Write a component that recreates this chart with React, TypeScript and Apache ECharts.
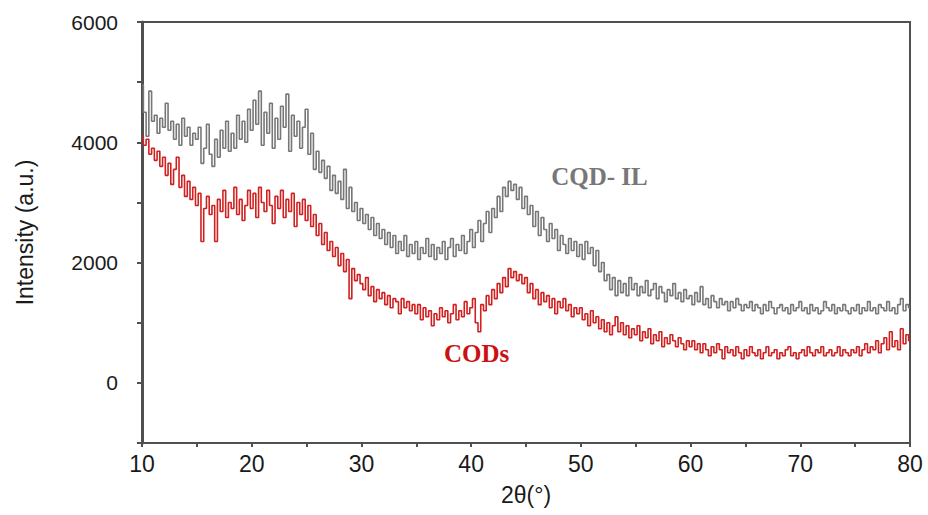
import React, { useEffect, useRef } from "react";
import * as echarts from "echarts";

// 2θ sampling grid (degrees)
const THETA_START = 10;
const THETA_STEP = 0.25;

// CQD- IL intensity (a.u.), one value every 0.25° from 10° to 80°
const cqdIL: number[] = [
  4950, 4500, 4100, 4850, 4350, 4450, 4150, 4400, 4250, 4650, 4200, 4350, 4050, 4300, 3950, 4400, 4100, 4250, 3950, 4150,
  4050, 4250, 3650, 3900, 4300, 3800, 3600, 4050, 3750, 4200, 3900, 4350, 3850, 4150, 3900, 4450, 4050, 4350, 4000, 4550,
  4200, 4700, 4300, 4850, 3950, 4500, 4150, 4650, 3900, 4400, 4050, 4600, 4250, 4800, 3850, 4450, 4100, 4350, 3900, 4250,
  4550, 3800, 4150, 3550, 3850, 3500, 3700, 3400, 3600, 3200, 3450, 3150, 3350, 3050, 3550, 2900, 3250, 2850, 3000, 2700,
  2900, 2650, 2800, 2550, 2750, 2450, 2650, 2400, 2550, 2300, 2500, 2250, 2450, 2150, 2350, 2200, 2450, 2100, 2300, 2150,
  2350, 2050, 2250, 2150, 2400, 2100, 2300, 2050, 2250, 2150, 2350, 2050, 2250, 2400, 2100, 2300, 2200, 2450, 2150, 2350,
  2550, 2250, 2500, 2700, 2350, 2650, 2850, 2500, 2900, 2750, 3100, 2850, 3250, 3100, 3350, 3200, 3300, 3050, 3250, 2900,
  3100, 2800, 2950, 2600, 2850, 2450, 2750, 2550, 2350, 2650, 2400, 2550, 2200, 2450, 2300, 2150, 2400, 2200, 2350, 2100,
  2300, 2050, 2350, 2150, 2250, 1950, 2200, 1850, 2000, 1700, 1800, 1550, 1750, 1450, 1700, 1500, 1650, 1450, 1750, 1550,
  1650, 1450, 1600, 1500, 1700, 1450, 1550, 1650, 1400, 1600, 1500, 1350, 1550, 1450, 1650, 1400, 1500, 1350, 1550, 1400,
  1450, 1300, 1500, 1350, 1600, 1300, 1400, 1250, 1450, 1350, 1250, 1400, 1300, 1350, 1200, 1350, 1250, 1400, 1300, 1200,
  1300, 1250, 1350, 1200, 1300, 1250, 1150, 1300, 1200, 1350, 1250, 1150, 1250, 1300, 1200, 1250, 1150, 1300, 1200, 1250,
  1350, 1200, 1250, 1150, 1300, 1200, 1250, 1150, 1200, 1350, 1250, 1200, 1300, 1150, 1250, 1200, 1300, 1200, 1150, 1250,
  1200, 1300, 1150, 1250, 1200, 1350, 1200, 1250, 1150, 1300, 1250, 1200, 1350, 1200, 1250, 1150, 1300, 1400, 1200, 1300,
  1250,
];

// CODs intensity (a.u.), one value every 0.25° from 10° to 80°
const cods: number[] = [
  4100, 3950, 4050, 3800, 3900, 3700, 3850, 3600, 3750, 3450, 3650, 3300, 3550, 3750, 3250, 3450, 3100, 3350, 3050, 3250,
  2950, 3150, 2350, 2900, 3100, 2800, 2950, 2350, 3050, 2850, 3200, 2750, 3000, 2900, 3250, 2800, 3050, 2700, 2950, 3200,
  2900, 3150, 2750, 3250, 3000, 2850, 3200, 2950, 2650, 3100, 2900, 3200, 2750, 3050, 2850, 3150, 2600, 3000, 2800, 3050,
  2700, 2950, 2600, 2800, 2450, 2650, 2300, 2500, 2200, 2350, 2100, 2250, 1950, 2150, 1850, 2050, 1400, 1900, 1700, 1800,
  1650, 1550, 1750, 1450, 1600, 1350, 1550, 1400, 1500, 1300, 1450, 1250, 1400, 1350, 1150, 1400, 1250, 1350, 1200, 1300,
  1150, 1300, 1050, 1250, 1100, 1200, 950, 1150, 1050, 1250, 1100, 1200, 1000, 1150, 1300, 1050, 1200, 1100, 1350, 1150,
  1250, 1400, 1000, 850, 1300, 1200, 1450, 1300, 1550, 1400, 1650, 1500, 1750, 1600, 1900, 1750, 1850, 1700, 1800, 1650,
  1750, 1500, 1650, 1400, 1550, 1300, 1500, 1350, 1450, 1250, 1400, 1150, 1350, 1250, 1400, 1200, 1300, 1100, 1250, 1150,
  1250, 1050, 1150, 950, 1200, 1000, 1100, 900, 1050, 850, 1000, 800, 950, 1100, 850, 1000, 800, 950, 750, 900,
  800, 950, 700, 850, 750, 900, 650, 800, 700, 850, 600, 750, 650, 800, 700, 600, 750, 650, 550, 700,
  600, 700, 550, 650, 500, 650, 550, 450, 600, 500, 650, 550, 400, 600, 500, 550, 450, 600, 500, 400,
  550, 450, 600, 500, 450, 550, 400, 500, 600, 450, 500, 550, 400, 500, 450, 550, 600, 450, 500, 400,
  500, 550, 450, 600, 500, 450, 550, 500, 600, 450, 500, 550, 450, 500, 600, 450, 550, 500, 450, 550,
  500, 600, 450, 550, 650, 500, 600, 550, 700, 500, 650, 750, 550, 850, 600, 700, 550, 900, 650, 800,
  700,
];

// Y tick labels that are printed
const yLabelValues = [0, 2000, 4000, 6000];

// Annotation positions (data space)
const labelCQD = { name: "CQD- IL", coord: [51.7, 3430] };
const labelCOD = { name: "CODs", coord: [40.5, 480] };

const toPairs = (vals: number[]) =>
  vals.map((v, i) => [THETA_START + i * THETA_STEP, v]);

export default function App() {
  const ref = useRef<HTMLDivElement>(null);
  useEffect(() => {
    if (!ref.current) return;
    const chart = echarts.init(ref.current, undefined, { renderer: "svg" });
    const axisColor = "#505050";
    const textColor = "#1a1a1a";
    chart.setOption({
      animation: false,
      backgroundColor: "#ffffff",
      grid: {
        left: 142,
        right: 18,
        top: 22,
        bottom: 72,
        show: true,
        borderColor: axisColor,
        borderWidth: 2,
        backgroundColor: "transparent",
      },
      xAxis: {
        type: "value",
        min: 10,
        max: 80,
        interval: 10,
        name: "2θ(°)",
        nameLocation: "middle",
        nameGap: 40,
        nameTextStyle: { fontFamily: "Liberation Sans", fontSize: 23, color: textColor },
        axisLine: { show: true, onZero: false, lineStyle: { color: axisColor, width: 2 } },
        axisTick: { show: true, inside: false, length: 4, lineStyle: { color: axisColor, width: 2 } },
        minorTick: { show: true, splitNumber: 2, length: 4, lineStyle: { color: axisColor, width: 2 } },
        splitLine: { show: false },
        axisLabel: { fontFamily: "Liberation Sans", fontSize: 23, color: textColor, margin: 9 },
      },
      yAxis: {
        type: "value",
        min: -1000,
        max: 6000,
        interval: 1000,
        name: "Intensity (a.u.)",
        nameLocation: "middle",
        nameGap: 106,
        nameTextStyle: { fontFamily: "Liberation Sans", fontSize: 23, color: textColor },
        axisLine: { show: true, onZero: false, lineStyle: { color: axisColor, width: 3 } },
        axisTick: { show: true, inside: false, length: 5, lineStyle: { color: axisColor, width: 2 } },
        splitLine: { show: false },
        axisLabel: {
          fontFamily: "Liberation Sans",
          fontSize: 21,
          color: textColor,
          margin: 24,
          formatter: (v: number) => (yLabelValues.includes(v) ? String(v) : ""),
        },
      },
      series: [
        {
          name: "CQD- IL",
          type: "line",
          step: "middle",
          data: toPairs(cqdIL),
          showSymbol: false,
          symbol: "none",
          lineStyle: { color: "#777777", width: 1.6 },
          z: 2,
          markPoint: {
            silent: true,
            symbol: "circle",
            symbolSize: 1,
            itemStyle: { color: "rgba(0,0,0,0)" },
            label: {
              show: true,
              position: "inside",
              formatter: labelCQD.name,
              fontFamily: "Liberation Serif",
              fontWeight: "bold",
              fontSize: 25,
              color: "#777777",
            },
            data: [{ coord: labelCQD.coord }],
          },
        },
        {
          name: "CODs",
          type: "line",
          step: "middle",
          data: toPairs(cods),
          showSymbol: false,
          symbol: "none",
          lineStyle: { color: "#d0201f", width: 1.6 },
          z: 3,
          markPoint: {
            silent: true,
            symbol: "circle",
            symbolSize: 1,
            itemStyle: { color: "rgba(0,0,0,0)" },
            label: {
              show: true,
              position: "inside",
              formatter: labelCOD.name,
              fontFamily: "Liberation Serif",
              fontWeight: "bold",
              fontSize: 25,
              color: "#cc1111",
            },
            data: [{ coord: labelCOD.coord }],
          },
        },
      ],
    });
    return () => chart.dispose();
  }, []);
  return (
    <div
      ref={ref}
      style={{ position: "fixed", left: 0, top: 0, width: 928, height: 515, background: "#fff" }}
    />
  );
}
